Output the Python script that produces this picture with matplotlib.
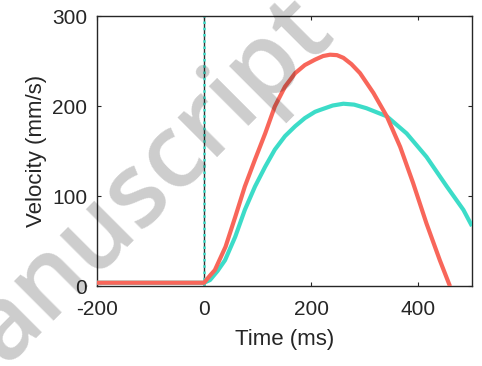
import matplotlib
matplotlib.use("Agg")
import matplotlib.pyplot as plt

# Data
red_t = [-200, -100, 0, 11, 20, 40, 58, 76, 95, 114, 132, 151, 170, 188, 207,
         222, 235, 248, 260, 275, 291, 316, 341, 366, 390, 415, 440, 459]
red_v = [4, 4, 4, 12, 18, 44, 77, 111, 141, 170, 200, 222, 237, 246, 252,
         256, 257.5, 257, 254, 247, 237, 215, 189, 155, 115, 70, 29, 0]

cyan_t = [-200, -100, 0, 11, 25, 39, 58, 76, 95, 114, 132, 151, 170, 188, 207,
          216, 240, 260, 280, 303, 341, 378, 415, 453, 484, 500]
cyan_v = [4, 4, 4, 7, 17, 29, 55, 85, 111, 133, 152, 167, 178, 187, 194,
          196, 201, 203, 202, 198, 189, 170, 144, 111, 85, 67]

x_ticks = [-200, 0, 200, 400]
y_ticks = [0, 100, 200, 300]

RED = "#F8665A"
CYAN = "#3CDCC8"
DARK = "#262626"

plt.rcParams["font.family"] = ["Liberation Sans", "DejaVu Sans"]
plt.rcParams["axes.unicode_minus"] = False

fig = plt.figure(figsize=(4.82, 3.66), dpi=100)
ax = fig.add_axes([0.2012, 0.2177, 0.778, 0.7373])

ax.axvline(0, color="#333333", lw=1.0, zorder=1)
ax.axvline(0, color=CYAN, lw=1.8, ls=(0, (1, 1.5)), zorder=2)

ax.plot(cyan_t, cyan_v, color=CYAN, lw=3.0, solid_capstyle="butt", zorder=3)
ax.plot(red_t, red_v, color=RED, lw=3.0, solid_capstyle="butt", zorder=4)

ax.set_xlim(-200, 500)
ax.set_ylim(0, 300)
ax.set_xticks(x_ticks)
ax.set_yticks(y_ticks)
ax.tick_params(direction="in", length=3, width=0.8, top=True, right=True,
               labelsize=15, colors=DARK)
ax.tick_params(axis="x", pad=10)
ax.tick_params(axis="y", pad=7)
for s in ax.spines.values():
    s.set_color(DARK)
    s.set_linewidth(1.0)

ax.set_xlabel("Time (ms)", fontsize=16, color=DARK, labelpad=7)
ax.set_ylabel("Velocity (mm/s)", fontsize=16, color=DARK, labelpad=4)

# Watermark
fig.text(335 / 482, 1 - 30 / 366, "Manuscript", fontsize=74, color="black",
         alpha=0.2, rotation=45, ha="right", va="baseline",
         family=["Open Sans", "Liberation Sans"], fontweight="semibold",
         rotation_mode="anchor", zorder=10)

fig.savefig("out.png", dpi=100)
